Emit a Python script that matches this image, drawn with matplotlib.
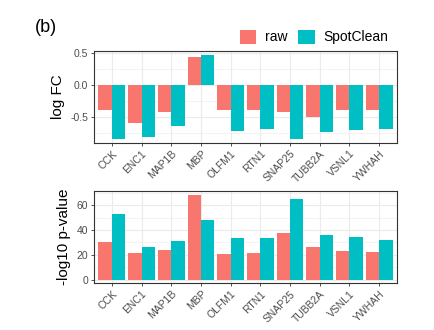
import matplotlib
matplotlib.use("Agg")
import matplotlib.pyplot as plt
import numpy as np
from matplotlib.patches import Patch

plt.rcParams["font.family"] = ["Liberation Sans", "DejaVu Sans"]

genes = ["CCK", "ENC1", "MAP1B", "MBP", "OLFM1", "RTN1", "SNAP25", "TUBB2A", "VSNL1", "YWHAH"]
logfc_raw = [-0.40, -0.59, -0.425, 0.43, -0.40, -0.40, -0.425, -0.50, -0.40, -0.40]
logfc_spot = [-0.845, -0.81, -0.65, 0.465, -0.72, -0.69, -0.845, -0.73, -0.71, -0.69]
pval_raw = [30.5, 21.5, 24, 68, 21, 21.5, 38, 26.5, 23, 22.5]
pval_spot = [53, 26.5, 31, 48, 34, 34, 65, 36, 34.5, 32]

RED = "#F8766D"
TEAL = "#00BFC4"
GRID = "#EBEBEB"
TXT = "#4D4D4D"

fig = plt.figure(figsize=(4.34, 3.30), dpi=100)
ax1 = fig.add_axes([94/434, 1-143/330, (397-94)/434, (143-51)/330])
ax2 = fig.add_axes([94/434, 1-283.3/330, (397-94)/434, (283.3-191)/330])

x = np.arange(len(genes))
w = 0.45

def style(ax):
    ax.set_axisbelow(True)
    for s in ax.spines.values():
        s.set_color("#333333")
        s.set_linewidth(0.8)
    ax.grid(True, which="major", color=GRID, linewidth=0.8)
    ax.grid(True, which="minor", axis="y", color=GRID, linewidth=0.4)
    ax.tick_params(axis="both", which="major", colors="#333333", labelcolor=TXT,
                   labelsize=7.5, length=2.5, width=0.6, pad=1.5)
    ax.tick_params(axis="y", which="minor", length=0)
    ax.set_xlim(-0.6, len(genes) - 0.4)
    ax.set_xticks(x)
    ax.set_xticklabels(genes, rotation=45, ha="right", rotation_mode="anchor")

ax1.bar(x - w/2, logfc_raw, width=w, color=RED, edgecolor="none")
ax1.bar(x + w/2, logfc_spot, width=w, color=TEAL, edgecolor="none")
style(ax1)
ax1.set_ylim(-0.91, 0.53)
ax1.set_yticks([-0.5, 0.0, 0.5])
ax1.set_yticks([-0.75, -0.25, 0.25], minor=True)
ax1.set_yticklabels(["-0.5", "0.0", "0.5"])
ax1.set_ylabel("log FC", fontsize=11, labelpad=4)

ax2.bar(x - w/2, pval_raw, width=w, color=RED, edgecolor="none")
ax2.bar(x + w/2, pval_spot, width=w, color=TEAL, edgecolor="none")
style(ax2)
ax2.set_ylim(-2.9, 71.5)
ax2.set_yticks([0, 20, 40, 60])
ax2.set_yticks([10, 30, 50, 70], minor=True)
ax2.set_ylabel("-log10 p-value", fontsize=11, labelpad=4)

handles = [Patch(facecolor=RED, label="raw"), Patch(facecolor=TEAL, label="SpotClean")]
fig.legend(handles=handles, loc="center", bbox_to_anchor=(314/434, 1-37/330), ncol=2,
           frameon=False, fontsize=10, handlelength=1.2, handleheight=1.2,
           handletextpad=0.6, columnspacing=0.8, borderaxespad=0)

fig.text(35/434, 1-27/330, "(b)", fontsize=13, va="center", ha="left")

fig.savefig("out.png", dpi=100)
